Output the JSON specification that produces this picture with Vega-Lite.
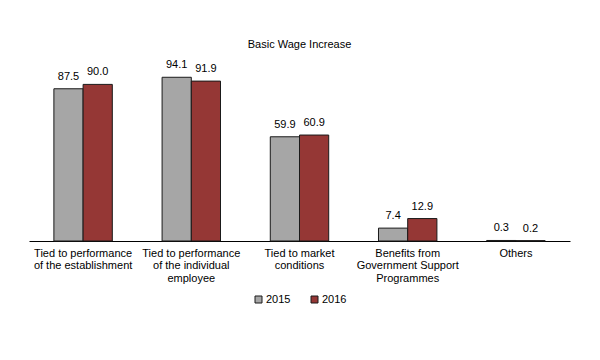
{
  "$schema": "https://vega.github.io/schema/vega-lite/v6.json",
  "width": 541,
  "height": 174,
  "autosize": "none",
  "padding": {"left": 29, "top": 67, "right": 30, "bottom": 119},
  "background": "white",
  "config": {
    "view": {"stroke": null},
    "font": "Liberation Sans"
  },
  "title": {
    "text": "Basic Wage Increase",
    "fontSize": 11,
    "fontWeight": "normal",
    "color": "#000000",
    "frame": "group",
    "anchor": "middle",
    "offset": 9
  },
  "data": {
    "values": [
      {"cat": "Tied to performance|of the establishment", "year": "2015", "v": 87.5},
      {"cat": "Tied to performance|of the establishment", "year": "2016", "v": 90.0},
      {"cat": "Tied to performance|of the individual|employee", "year": "2015", "v": 94.1},
      {"cat": "Tied to performance|of the individual|employee", "year": "2016", "v": 91.9},
      {"cat": "Tied to market|conditions", "year": "2015", "v": 59.9},
      {"cat": "Tied to market|conditions", "year": "2016", "v": 60.9},
      {"cat": "Benefits from|Government Support|Programmes", "year": "2015", "v": 7.4},
      {"cat": "Benefits from|Government Support|Programmes", "year": "2016", "v": 12.9},
      {"cat": "Others", "year": "2015", "v": 0.3},
      {"cat": "Others", "year": "2016", "v": 0.2}
    ]
  },
  "encoding": {
    "x": {
      "field": "cat",
      "type": "nominal",
      "sort": null,
      "title": null,
      "scale": {"paddingInner": 0.46, "paddingOuter": 0.23},
      "axis": {
        "labelAngle": 0,
        "labelExpr": "split(datum.label, '|')",
        "labelFontSize": 11,
        "labelColor": "#000000",
        "labelPadding": 6,
        "labelLineHeight": 12.5,
        "labelBaseline": "top",
        "ticks": false,
        "domainColor": "#000000",
        "domainWidth": 1,
        "labelLimit": 200
      }
    },
    "xOffset": {"field": "year", "type": "nominal"},
    "y": {
      "field": "v",
      "type": "quantitative",
      "scale": {"domain": [0, 100]},
      "axis": null
    }
  },
  "layer": [
    {
      "mark": {"type": "bar", "stroke": "#1a1a1a", "strokeWidth": 1},
      "encoding": {
        "color": {
          "field": "year",
          "type": "nominal",
          "scale": {"domain": ["2015", "2016"], "range": ["#a6a6a6", "#953735"]},
          "legend": {
            "title": null,
            "orient": "none",
            "legendX": 224,
            "legendY": 227,
            "direction": "horizontal",
            "symbolType": "square",
            "symbolSize": 49,
            "symbolStrokeColor": "#1a1a1a",
            "symbolStrokeWidth": 1,
            "labelFontSize": 11,
            "labelColor": "#000000",
            "labelOffset": 2,
            "columnPadding": 18
          }
        }
      }
    },
    {
      "mark": {"type": "text", "baseline": "bottom", "dy": -7, "fontSize": 11, "color": "#000000"},
      "encoding": {
        "text": {"field": "v", "type": "quantitative", "format": ".1f"}
      }
    }
  ]
}
